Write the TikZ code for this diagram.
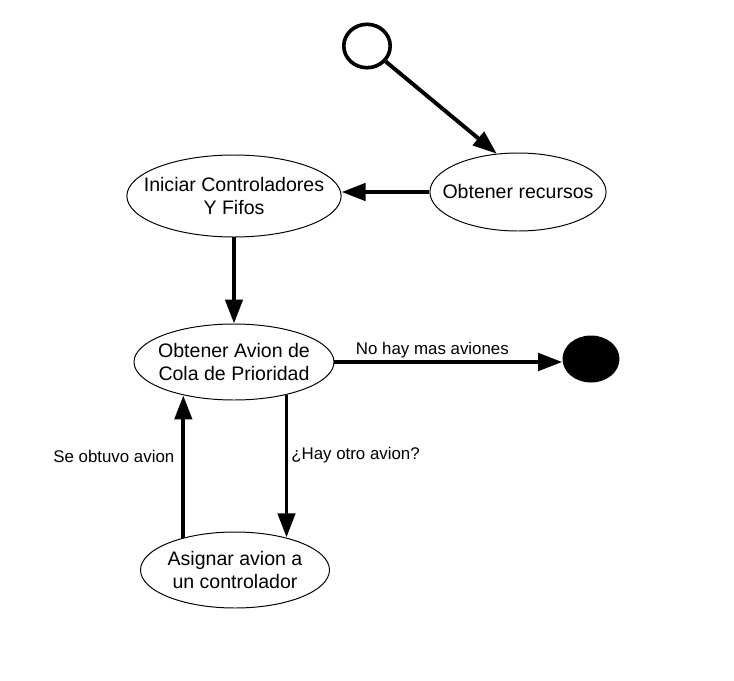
\documentclass[tikz,border=0pt]{standalone}
\usepackage{fontspec}
\setmainfont{Liberation Sans}
\usetikzlibrary{positioning, shapes.geometric, arrows.meta}

\begin{document}
\begin{tikzpicture}[
        estado/.style = {ellipse, draw, line width = 0.7pt, inner sep = 0pt, align = center,
                         font = \fontsize{13.9pt}{16.5pt}\selectfont},
        inicio/.style = {ellipse, draw, line width = 2.6pt, minimum width = 1.16cm, minimum height = 1.085cm},
        fin/.style = {ellipse, fill = black, minimum width = 1.425cm, minimum height = 1.175cm},
        flecha/.style = {line width = 2.8pt, -{Triangle[length = 0.6cm, width = 0.43cm]}},
        etiqueta/.style = {font = \fontsize{12pt}{14pt}\selectfont, inner sep = 2pt}
      ]
      \useasboundingbox (0,0) rectangle (18.35,-17.025);

      \node[inicio] (inicio) at (9.175,-1.15) {};
      \node[estado, inner xsep = -0.33cm, minimum width = 4.4cm, minimum height = 1.95cm] (recursos) at (12.95,-4.8) {Obtener recursos};
      \node[estado, inner xsep = -0.36cm, minimum width = 5.35cm, minimum height = 2.05cm] (iniciar) at (5.85,-4.9) {Iniciar Controladores\\Y Fifos};
      \node[estado, inner xsep = -0.13cm, minimum width = 5.0cm, minimum height = 1.9cm] (avion) at (5.85,-9.05) {Obtener Avion de\\Cola de Prioridad};
      \node[fin] (fin) at (14.775,-8.975) {};
      \node[estado, inner xsep = -0.04cm, minimum width = 4.725cm, minimum height = 1.9cm] (asignar) at (5.875,-14.25) {Asignar avion a\\un controlador};

      \draw[flecha] (inicio) -- (recursos.119);
      \draw[flecha] (recursos.west) -- (recursos.west -| iniciar.east);
      \draw[flecha] (iniciar) -- (avion);
      \draw[flecha] (avion.east) -- (avion.east -| fin.west)
        node[etiqueta, above, pos = 0.43, inner sep = 0.5pt, yshift = 1pt] {No hay mas aviones};
      \draw[flecha] (avion.328) -- (avion.328 |- asignar.33)
        node[etiqueta, right, pos = 0.42] {¿Hay otro avion?};
      \draw[flecha] (asignar.148) -- (asignar.148 |- avion.214)
        node[etiqueta, left, pos = 0.57, xshift = -3pt] {Se obtuvo avion};
    \end{tikzpicture}
\end{document}
